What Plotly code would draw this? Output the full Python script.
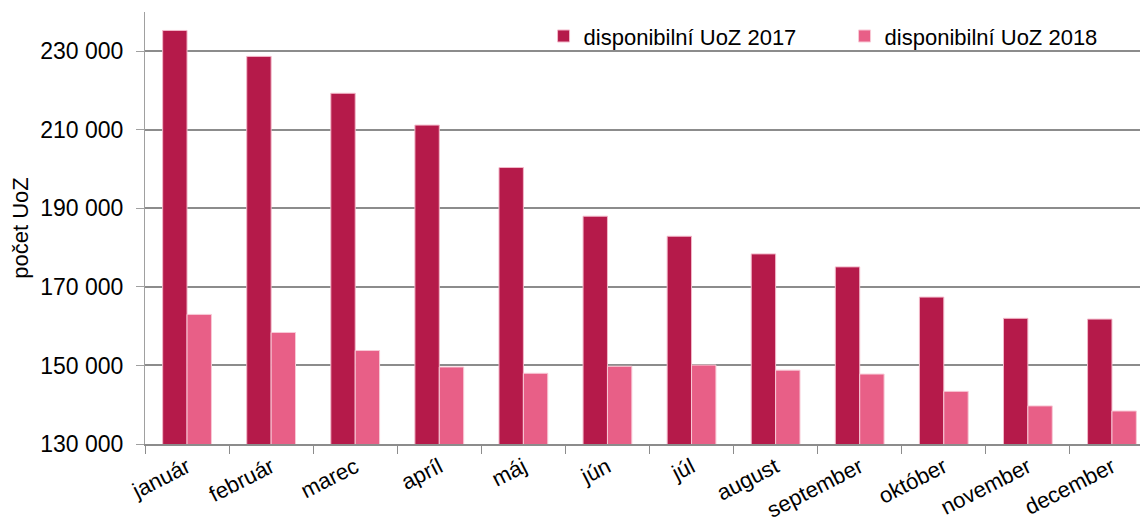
import plotly.graph_objects as go

months = ["január", "február", "marec", "apríl", "máj", "jún", "júl", "august",
          "september", "október", "november", "december"]
uoz_2017 = [235300, 228700, 219300, 211200, 200400, 188000, 182900, 178400,
            175100, 167400, 162000, 161800]
uoz_2018 = [163000, 158400, 153800, 149600, 148000, 149800, 150100, 148800,
            147800, 143400, 139700, 138400]
tick_vals = [130000, 150000, 170000, 190000, 210000, 230000]
tick_text = ["130 000", "150 000", "170 000", "190 000", "210 000", "230 000"]

FONT = "Liberation Sans, Arial, sans-serif"

fig = go.Figure()
fig.add_trace(go.Bar(x=months, y=uoz_2017, name="disponibilní UoZ 2017",
                     marker=dict(color="#B51A4A", line=dict(color="#F2B8C9", width=1))))
fig.add_trace(go.Bar(x=months, y=uoz_2018, name="disponibilní UoZ 2018",
                     marker=dict(color="#E85F87", line=dict(color="#F8C9D6", width=1))))

fig.update_layout(
    width=1148, height=524,
    margin=dict(l=137, r=2, t=4, b=88, autoexpand=False),
    plot_bgcolor="white", paper_bgcolor="white",
    barmode="group", bargap=0.42, bargroupgap=0,
    font=dict(family=FONT, size=22, color="black"),
    legend=dict(orientation="h", x=0.395, y=0.944, xanchor="left", yanchor="middle",
                font=dict(size=22), bgcolor="rgba(0,0,0,0)",
                entrywidth=256, itemwidth=30),
    xaxis=dict(range=[-0.5, 11.5], showgrid=False, showline=True, automargin=False,
               linecolor="#8c8c8c", linewidth=1.5, ticks="outside",
               tickson="boundaries", ticklen=8, tickcolor="#8c8c8c",
               tickangle=-27, tickfont=dict(size=22)),
    yaxis=dict(range=[130000, 240000], tickvals=tick_vals, ticktext=tick_text,
               automargin=False,
               showgrid=True, gridcolor="#8c8c8c", gridwidth=1.8,
               showline=True, linecolor="#a0a0a0", linewidth=1.2,
               ticks="outside", ticklen=8, tickcolor="#a0a0a0",
               ticklabelstandoff=8,
               tickfont=dict(size=23), zeroline=False,
               title=dict(text="počet UoZ", font=dict(size=22), standoff=10)),
)

fig.write_html("out.html")
